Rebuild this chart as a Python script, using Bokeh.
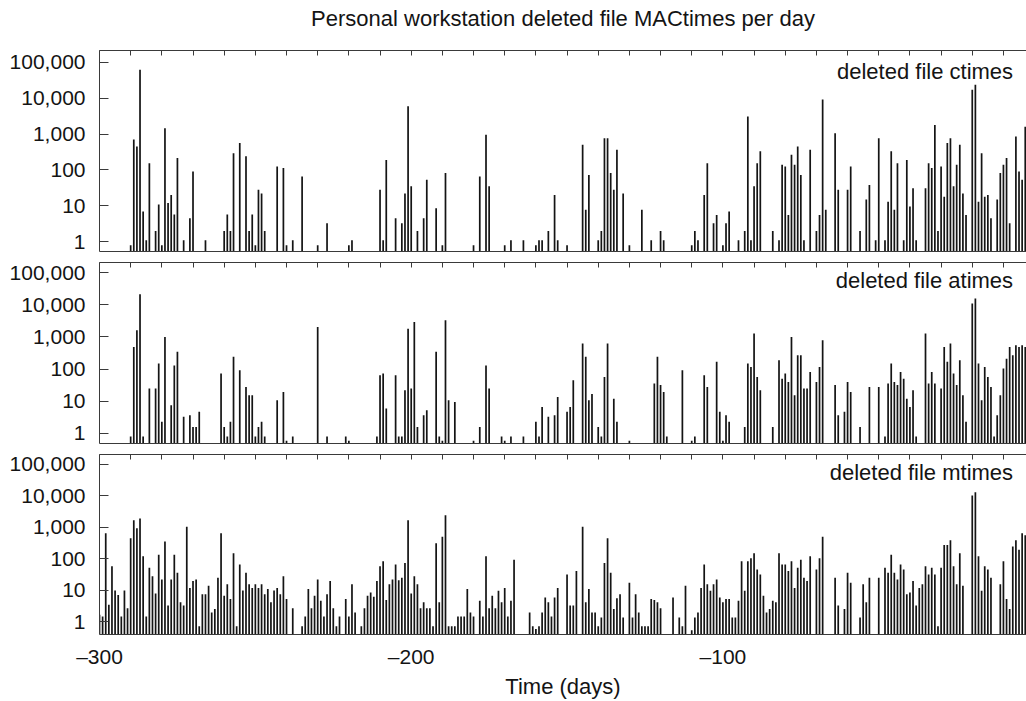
from bokeh.plotting import figure
from bokeh.models import (Range1d, LogAxis, LinearAxis, FixedTicker, Label,
                          NumeralTickFormatter)
from bokeh.layouts import column
from bokeh.embed import file_html
from bokeh.resources import INLINE

# ---------------- data (days before present, files per day) ----------------
ctime_days = [-290, -289, -288, -287, -286, -285, -284, -282, -281, -280, -279, -278, -277, -276,
              -275, -273, -271, -270, -266, -260, -259, -258, -257, -255, -253, -252, -251, -250,
              -249, -248, -247, -243, -241, -240, -238, -235, -230, -227, -220, -219, -210, -209,
              -208, -205, -203, -202, -201, -200, -198, -196, -195, -192, -190, -189, -180, -178,
              -176, -175, -170, -168, -164, -160, -159, -158, -156, -154, -153, -150, -145, -144,
              -143, -140, -139, -138, -137, -136, -135, -134, -132, -130, -126, -123, -120, -119,
              -110, -109, -108, -106, -105, -103, -102, -100, -99, -98, -95, -93, -92, -91, -90,
              -89, -88, -84, -82, -81, -80, -79, -78, -77, -76, -75, -74, -72, -70, -69, -68, -67,
              -64, -63, -60, -59, -56, -54, -53, -51, -50, -48, -47, -46, -45, -44, -42, -41, -40,
              -39, -38, -35, -34, -33, -32, -31, -30, -29, -28, -27, -26, -25, -24, -23, -22, -20,
              -19, -18, -17, -16, -15, -14, -12, -11, -10, -9, -8, -6, -5, -4, -3]
ctime_counts = [0.8, 700, 450, 62000, 7, 1.1, 155, 2, 11, 0.8, 1450, 12, 20, 5.8,
                215, 1.1, 4.5, 90, 1.1, 2, 5.8, 2, 290, 560, 240, 2, 5.8, 0.8,
                28, 22, 2, 125, 113, 0.8, 1.1, 66, 0.8, 3.3, 0.8, 1.1, 28, 1.1,
                190, 4.5, 3.3, 22, 5900, 35, 2, 4.5, 53, 8.6, 0.8, 82, 0.8, 66,
                950, 35, 0.8, 1.1, 1.1, 0.8, 1.1, 1.1, 2, 20, 1.1, 0.8, 500, 7.8,
                73, 1.1, 2, 770, 770, 82, 28, 365, 22, 0.8, 7.8, 1.1, 2, 1.1,
                0.8, 2, 1.1, 20, 155, 3.3, 5.6, 0.8, 3.3, 7, 1.1, 2, 3100, 1.1, 35,
                155, 330, 2, 1.1, 140, 125, 5.6, 265, 140, 450, 73, 1.1, 365, 2, 5.6, 9100, 7.8,
                1060, 28, 28, 125, 2, 15, 38, 1.1, 770, 1.1, 13, 330, 7.8, 155, 1.1, 190, 9.6,
                31, 1.1, 31, 155, 113, 1800, 2, 125, 18, 560, 770, 35, 140, 500, 22, 5.6, 17000,
                23500, 13, 290, 18, 20, 4.5, 15, 82, 140, 215, 3.3, 860, 90, 53, 1600]

atime_days = [-290, -289, -288, -287, -286, -284, -282, -281, -280, -279, -277, -276, -275, -273,
              -271, -270, -269, -268, -261, -260, -259, -258, -257, -255, -253, -252, -251, -250,
              -249, -248, -247, -243, -241, -240, -238, -230, -227, -221, -220, -211, -210, -209,
              -208, -205, -204, -203, -202, -201, -200, -199, -198, -196, -195, -192, -191, -190,
              -189, -188, -186, -180, -178, -176, -175, -171, -170, -168, -164, -160, -159, -158,
              -156, -154, -153, -150, -149, -148, -145, -144, -143, -142, -140, -139, -138, -137,
              -135, -134, -130, -122, -121, -120, -119, -118, -113, -110, -109, -106, -105, -102,
              -101, -100, -99, -98, -93, -92, -91, -90, -89, -88, -84, -82, -81, -80, -79, -78,
              -77, -76, -75, -74, -73, -72, -70, -69, -68, -64, -63, -61, -60, -59, -56, -53, -50,
              -48, -47, -46, -45, -44, -43, -42, -41, -40, -39, -38, -35, -34, -33, -32, -30, -29,
              -28, -27, -26, -25, -24, -23, -22, -20, -19, -18, -17, -16, -15, -14, -13, -12, -11,
              -10, -9, -8, -7, -6, -5, -4, -3]
atime_counts = [0.8, 490, 1600, 21000, 0.8, 25, 25, 150, 2.3, 1000, 7.6, 130, 345, 3.3,
                3.7, 1.6, 1.6, 4.7, 73, 1.6, 0.8, 2.3, 240, 92, 28, 15.5, 15.5, 0.8,
                1.6, 2.3, 0.8, 10.8, 19.6, 0.6, 0.8, 2050, 0.8, 0.8, 0.6, 0.8, 65, 73,
                6, 65, 0.8, 0.8, 22, 1800, 25, 2900, 1.6, 3.7, 5.3, 345, 0.8, 0.6,
                3300, 10.8, 9.6, 0.6, 1.6, 130, 25, 0.8, 0.6, 0.8, 0.8, 2.3, 0.8, 6.7,
                3.3, 3.7, 13.7, 4.7, 6.7, 45, 620, 240, 10.8, 17, 1.6, 0.8, 57, 620,
                12, 2.3, 0.6, 36, 240, 32, 19.6, 0.8, 92, 0.6, 0.8, 65, 28, 170,
                4.7, 0.6, 3.7, 2.3, 1.6, 150, 117, 1270, 57, 22, 1.6, 190, 50, 73, 40, 1000,
                15.5, 270, 270, 25, 25, 82, 40, 117, 790, 32, 3.7, 4.7, 40, 19.6, 1.6, 28, 28,
                0.8, 36, 150, 40, 32, 82, 50, 12, 6.7, 22, 0.8, 1270, 36, 82, 36, 25, 490,
                170, 620, 73, 32, 190, 15.5, 2.3, 11000, 15500, 150, 10.8, 117, 57, 28, 0.8, 3.7, 15.5,
                105, 210, 490, 270, 550, 490, 550, 490]

mtime_days = [-300, -299, -298, -297, -296, -295, -294, -293, -292, -291, -290, -289, -288, -287,
              -286, -285, -284, -283, -282, -281, -280, -279, -278, -277, -276, -275, -274, -273,
              -272, -271, -270, -269, -268, -267, -266, -265, -264, -263, -262, -261, -260, -259,
              -258, -257, -256, -255, -254, -253, -252, -251, -250, -249, -248, -247, -246, -245,
              -244, -243, -242, -241, -240, -238, -235, -234, -233, -232, -231, -230, -229, -228,
              -227, -226, -225, -224, -223, -221, -220, -219, -218, -216, -215, -214, -213, -212,
              -211, -210, -209, -208, -207, -206, -205, -204, -203, -202, -201, -200, -199, -198,
              -197, -196, -195, -194, -193, -192, -191, -190, -189, -188, -187, -186, -185, -184,
              -183, -182, -181, -180, -178, -177, -176, -175, -174, -173, -172, -171, -170, -169,
              -168, -167, -162, -161, -160, -159, -158, -157, -156, -155, -154, -153, -150, -149,
              -148, -147, -145, -144, -143, -142, -141, -140, -139, -138, -137, -136, -135, -134,
              -133, -132, -130, -129, -128, -127, -126, -125, -124, -123, -122, -121, -120, -116,
              -114, -113, -112, -110, -109, -108, -107, -106, -105, -104, -103, -102, -101, -100,
              -99, -98, -97, -96, -95, -94, -93, -92, -91, -90, -89, -88, -87, -86, -85, -84, -83,
              -82, -81, -80, -79, -78, -77, -76, -75, -74, -73, -72, -70, -69, -68, -64, -63, -61,
              -60, -59, -56, -55, -54, -53, -50, -48, -47, -46, -45, -44, -43, -42, -41, -40, -39,
              -38, -37, -36, -35, -34, -33, -32, -31, -30, -29, -28, -27, -26, -25, -24, -23, -20,
              -19, -18, -17, -16, -15, -14, -11, -10, -9, -8, -7, -6, -5, -4, -3]
mtime_counts = [1.7, 1.5, 640, 3.5, 58, 10, 7.1, 1.5, 10, 2.7, 450, 1670, 920, 1900,
                120, 1.5, 52, 28, 8, 135, 22, 350, 3.3, 22, 135, 36, 4.2, 3.3,
                1030, 12, 20, 22, 0.73, 7.6, 7.6, 14, 2, 2.6, 25, 640, 6.8, 15.6,
                5.3, 150, 0.73, 66, 10, 36, 15.6, 12, 15.6, 12, 15.6, 7.6, 11, 4.2,
                10, 12, 7.6, 28, 5.3, 2.7, 0.73, 1.5, 11, 2.7, 6.8, 22, 4.7, 1.5,
                7.6, 20, 2.7, 0.73, 1.5, 5.3, 1.5, 15.6, 2, 0.73, 2.7, 6.8, 8.6, 6.3,
                20, 58, 83, 5, 15.6, 22, 66, 21, 25, 74, 1670, 8, 28, 15.6,
                2.7, 4.2, 2.7, 2.7, 0.73, 310, 4.2, 500, 2400, 0.73, 0.73, 0.73, 1.5, 1.5,
                1.5, 11, 2, 1.5, 4.7, 1.5, 120, 2.7, 6.8, 2.7, 9.7, 4.2, 12, 1.5,
                4.7, 94, 2, 0.73, 0.6, 0.73, 2, 6, 4.2, 1.5, 6, 12, 32, 3.3,
                3.3, 41, 1030, 4.2, 11, 2, 2, 0.73, 1.4, 74, 450, 36, 2.6, 5.6,
                7.6, 1.4, 17.6, 1.4, 7.6, 2, 0.73, 0.73, 0.73, 5.3, 5, 4.2, 2.7, 6,
                1.4, 0.73, 14, 0.55, 1.4, 2, 12, 66, 15.6, 9.7, 15.6, 22, 6, 4.2,
                5.3, 5.3, 1.4, 1.4, 4.7, 83, 9.7, 83, 105, 150, 46, 32, 6.8, 2, 2.6, 4.7, 4.2,
                150, 66, 66, 41, 83, 12, 52, 94, 25, 20, 120, 46, 105, 500, 25, 3.3, 2.6,
                36, 17.6, 1.4, 15.6, 4.2, 25, 25, 52, 36, 135, 36, 22, 66, 46, 7.6, 8.6, 20,
                3.3, 12, 15.6, 58, 32, 52, 32, 0.73, 52, 275, 275, 390, 58, 15.6, 150, 14, 10000,
                12700, 120, 9.7, 58, 46, 25, 15.6, 83, 5.3, 2.6, 245, 390, 195, 640, 560]

y_ticks = [1, 10, 100, 1000, 10000, 100000]
x_ticks = [-300, -200, -100]
x_tick_labels = {-300: "\u2013300", -200: "\u2013200", -100: "\u2013100"}
top_ticks = list(range(-300, 1, 10))
panel_names = ["deleted file ctimes", "deleted file atimes", "deleted file mtimes"]
title_text = "Personal workstation deleted file MACtimes per day"
x_label = "Time (days)"

FONT = "Liberation Sans"
INK = "#141414"
AX = "#3a3a3a"
TICK_FS = "21px"
NAME_FS = "22px"
X_START, X_END = -300, -2.6


def make_panel(days, counts, name, y_lo, y_hi, height, b_top, b_bottom,
               last=False, title=None):
    p = figure(width=1026, height=height, output_backend="svg", toolbar_location=None,
               x_range=Range1d(X_START, X_END), y_range=Range1d(y_lo, y_hi),
               y_axis_type="log", x_axis_location=None, y_axis_location=None,
               min_border_left=99, min_border_right=0,
               min_border_top=b_top, min_border_bottom=b_bottom)
    p.outline_line_color = None
    p.xgrid.visible = False
    p.ygrid.visible = False
    p.background_fill_color = "white"
    p.border_fill_color = "white"

    ya = LogAxis(ticker=FixedTicker(ticks=y_ticks),
                 formatter=NumeralTickFormatter(format="0,0"))
    ya.major_tick_in = 9
    ya.major_tick_out = 0
    ya.minor_tick_line_color = None
    ya.major_label_standoff = 14
    ya.major_label_text_font = FONT
    ya.major_label_text_font_size = TICK_FS
    ya.major_label_text_color = INK
    ya.axis_line_color = AX
    ya.major_tick_line_color = AX
    p.add_layout(ya, "left")

    ta = LinearAxis(ticker=FixedTicker(ticks=top_ticks))
    ta.major_tick_in = 5
    ta.major_tick_out = 0
    ta.minor_tick_line_color = None
    ta.major_label_text_font_size = "0px"
    ta.major_label_text_alpha = 0
    ta.major_label_standoff = 0
    ta.axis_line_color = AX
    ta.major_tick_line_color = AX
    if title:
        # the chart title sits above the first panel as the top axis' label
        ta.axis_label = title
        ta.axis_label_standoff = 20
        ta.axis_label_text_font = FONT
        ta.axis_label_text_font_size = "22px"
        ta.axis_label_text_font_style = "normal"
        ta.axis_label_text_color = INK
    p.add_layout(ta, "above")

    if last:
        ba = LinearAxis(ticker=FixedTicker(ticks=x_ticks))
        ba.major_label_overrides = x_tick_labels
        ba.major_tick_in = 0
        ba.major_tick_out = 0
        ba.minor_tick_line_color = None
        ba.major_label_standoff = 10
        ba.major_label_text_font = FONT
        ba.major_label_text_font_size = TICK_FS
        ba.major_label_text_color = INK
        ba.axis_label = x_label
        ba.axis_label_standoff = 3
        ba.axis_label_text_font = FONT
        ba.axis_label_text_font_size = NAME_FS
        ba.axis_label_text_font_style = "normal"
        ba.axis_label_text_color = INK
        ba.axis_line_color = AX
    else:
        ba = LinearAxis(ticker=FixedTicker(ticks=[]))
        ba.major_tick_in = 0
        ba.major_tick_out = 0
        ba.minor_tick_line_color = None
        ba.major_label_text_font_size = "0px"
        ba.major_label_standoff = 0
        ba.axis_line_color = AX
    p.add_layout(ba, "below")

    p.vbar(x=days, width=0.55, bottom=0.01, top=counts,
           fill_color=INK, line_color=None)

    p.add_layout(Label(x=-6.9, y=55000, text=name, text_align="right",
                       text_baseline="middle", text_font=FONT,
                       text_font_size=NAME_FS, text_color=INK))
    return p


p1 = make_panel(ctime_days, ctime_counts, panel_names[0], 0.537, 2.12e5, 256, 50, 5,
                title=title_text)
p2 = make_panel(atime_days, atime_counts, panel_names[1], 0.489, 2.05e5, 192, 6, 5)
p3 = make_panel(mtime_days, mtime_counts, panel_names[2], 0.402, 2.0e5, 253, 6, 64, last=True)

layout = column(p1, p2, p3, spacing=0)
open("out.html", "w").write(file_html(layout, INLINE))
